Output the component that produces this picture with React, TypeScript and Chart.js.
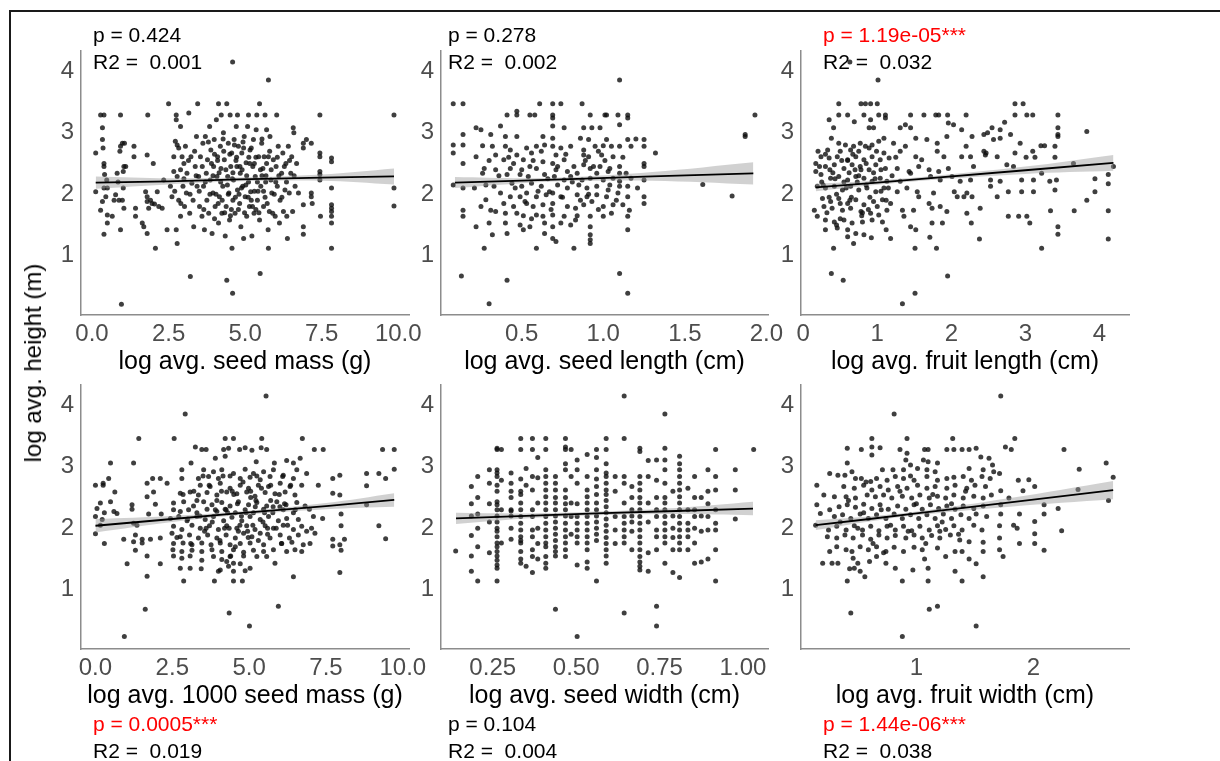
import React, { useEffect, useRef } from "react";
import { Chart, registerables } from "chart.js";
Chart.register(...registerables);

type P = [number, number];

// ---------- scatter data (x, log avg. height) ----------
const seedMass: P[] = [
[0.12,2.67],[0.12,2.04],[0.28,3.29],[0.39,3.29],[0.34,3.08],[0.34,2.89],[0.36,2.75],[0.39,2.5],[0.39,2.45],[0.41,2.32],[0.48,2.23],[0.39,2.1],[0.5,2.1],[0.34,1.88],[0.45,1.96],[0.28,1.74],[0.5,1.66],[0.39,1.35],[0.5,1.53],
[0.66,1.64],[0.72,1.9],[0.77,1.99],[0.82,2.34],[0.85,2.2],[0.88,1.9],[0.93,3.29],[0.93,2.78],[0.91,2.7],[0.99,2.83],[1.02,2.37],[1.04,2.45],[1.02,2.1],[0.93,1.42],[1.04,1.77],[0.96,0.21],[1.06,2.83],[1.1,2.45],[0.99,1.9],[1.37,2.78],[1.37,2.61],[1.42,1.77],[1.42,1.64],[1.64,1.53],
[1.82,3.29],[1.8,2.64],[1.75,2.04],[1.8,1.96],[1.8,1.88],[1.85,1.77],[1.8,1.36],[1.69,1.47],[1.91,1.9],[2.0,2.5],[1.96,1.85],[2.04,1.84],[2.07,1.12],[2.13,2.04],[2.18,1.8],[2.29,1.77],[2.34,2.23],[2.45,1.42],[2.5,3.47],
[2.56,2.13],[2.61,1.96],[2.67,2.61],[2.67,2.37],[2.72,2.86],[2.75,3.29],[2.75,3.21],[2.75,1.42],[2.78,1.2],[2.78,2.29],[2.78,2.8],[2.83,2.75],[2.83,1.9],[2.89,3.1],[2.89,2.4],[2.89,1.64],[2.94,2.61],[2.97,2.13],[3.0,2.5],[3.02,1.8],[3.05,2.78],[3.08,2.02],[3.1,2.34],[3.16,3.32],[3.19,1.69],[3.21,0.66],[3.23,2.61],[3.26,2.18],[3.3,1.9],[3.32,1.47],[3.37,2.45],[3.41,2.94],[3.43,2.13],[3.45,3.47],[3.48,2.29],[3.51,1.8],
[3.54,2.61],[3.59,1.64],[3.62,2.83],[3.64,2.13],[3.67,1.42],[3.7,2.94],[3.73,2.34],[3.75,1.9],[3.77,2.56],[3.81,1.69],[3.84,3.1],[3.86,2.23],[3.88,2.72],[3.92,1.36],[3.95,2.02],[3.97,2.45],[3.99,2.89],[4.02,1.8],[4.06,3.21],[4.08,2.29],[4.1,2.61],[4.13,3.47],[4.13,1.53],[4.16,1.96],[4.19,2.78],[4.21,2.42],[4.22,3.29],[4.24,1.69],[4.27,2.13],[4.29,3.0],[4.32,2.56],[4.35,1.32],[4.38,1.8],[4.4,3.47],[4.4,0.6],[4.43,2.29],[4.45,2.83],[4.47,2.02],[4.49,1.58],[4.51,3.29],[4.53,2.45],[4.56,2.67],[4.57,1.12],[4.59,4.15],[4.59,0.39],[4.6,1.9],
[4.62,2.23],[4.64,2.89],[4.67,1.69],[4.71,3.1],[4.73,2.45],[4.75,3.29],[4.75,2.07],[4.78,2.78],[4.82,1.85],[4.84,2.34],[4.86,1.47],[4.89,2.67],[4.92,2.13],[4.95,1.28],[4.97,2.94],[5.0,1.96],[5.03,2.51],[5.05,1.64],[5.08,3.1],[5.11,3.29],[5.11,2.2],[5.14,1.8],[5.16,2.72],[5.18,2.04],[5.22,1.32],[5.25,2.45],[5.27,2.89],[5.29,1.69],[5.33,2.29],[5.36,3.05],[5.38,3.29],[5.4,1.9],[5.44,2.61],[5.47,3.47],[5.47,1.58],[5.49,0.71],[5.51,2.13],[5.54,2.83],[5.58,2.42],[5.6,1.8],[5.62,2.61],[5.65,3.29],[5.67,2.2],[5.7,3.05],
[5.75,1.42],[5.76,3.86],[5.76,1.12],[5.76,2.61],[5.79,1.72],[5.81,2.94],[5.84,2.23],[5.87,2.02],[5.9,1.69],[5.92,2.56],[5.98,1.64],[6.01,2.45],[6.03,3.29],[6.05,2.13],[6.08,2.78],[6.12,1.53],[6.14,1.9],[6.19,2.34],[6.23,2.67],[6.25,1.72],[6.3,2.07],[6.33,2.5],[6.36,1.64],[6.38,1.28],[6.41,2.78],[6.44,2.02],[6.49,2.34],[6.52,2.61],[6.55,1.72],[6.57,3.08],[6.59,3.0],[6.63,2.13],[6.68,2.5],[6.74,2.02],
[6.9,2.83],[6.9,2.75],[6.9,1.83],[6.9,1.47],[6.9,1.35],[7.0,2.89],[7.16,2.83],[7.16,2.02],[7.16,1.96],[7.19,1.85],[7.44,3.29],[7.44,2.67],[7.44,2.61],[7.44,2.37],[7.44,2.32],[7.44,2.23],[7.46,1.64],[7.82,2.59],[7.82,2.53],[7.82,2.1],[7.82,1.83],[7.82,1.77],[7.82,1.72],[7.82,1.64],[7.82,1.53],[7.82,1.12],
[9.86,3.29],[9.86,2.1],[9.86,1.81],
[3.9,2.5],[4.05,2.0],[4.15,2.35],[4.3,2.7],[4.42,2.15],[4.55,1.75],[4.7,2.55],[4.8,2.0],[4.9,2.4],[5.02,2.15],[5.12,2.6],[5.2,1.9],[5.3,2.5],[5.42,2.05],[5.55,2.3],[5.65,1.95],[3.7,2.2],[4.0,2.65],[4.25,1.9],[4.6,2.35],[4.95,2.75],[5.35,1.75],[5.7,2.5],[6.0,2.2],
[3.35,2.7],[3.5,2.05],[3.6,2.45],[3.65,1.75],[3.8,2.85],[3.85,2.0],[3.95,2.3],[4.0,1.6],[4.1,2.55],[4.12,1.85],[4.2,2.2],[4.28,2.9],[4.33,1.7],[4.37,2.4],[4.45,2.0],[4.5,2.65],[4.52,1.65],[4.58,2.25],[4.65,2.8],[4.68,1.95],[4.72,2.6],[4.78,1.75],[4.83,2.45],[4.88,2.1],[4.93,2.85],[4.98,1.7],[5.05,2.3],[5.1,1.95],[5.15,2.5],[5.2,2.75],[5.24,1.8],[5.3,2.05],[5.35,2.6],[5.4,2.2],[5.45,1.7],[5.5,2.4],[5.55,2.9],[5.6,2.05],[5.68,2.3],[5.72,1.85],[5.8,2.7],[5.85,2.4],[5.95,2.0],[6.05,2.6],[6.1,2.3],[6.2,1.95],[6.28,2.45],[6.35,2.2],[6.45,2.55],[6.6,2.3],[3.2,2.0],[3.4,2.3],[3.0,2.25],[2.7,2.05],[2.9,1.85],[3.15,2.55],
];

const seedLength: P[] = [
[1.1,3.86],[0.13,0.67],[0.41,0.6],[0.3,0.22],[1.1,0.71],[1.15,0.39],[1.93,3.29],[1.87,2.97],[1.87,2.94],[1.61,2.16],[1.79,1.97],
[0.08,3.47],[0.14,3.47],[0.61,3.47],[0.69,3.47],[0.74,3.47],[0.87,3.47],
[0.41,3.29],[0.47,3.29],[0.55,3.29],[0.69,3.29],[0.92,3.29],[1.01,3.29],[1.09,3.29],[1.15,3.29],
[0.47,3.35],[0.58,3.29],[0.69,3.24],[1.02,3.29],[1.15,3.24],[1.1,3.13],[0.69,3.11],[0.37,3.11],[0.76,3.08],[0.88,3.08],[0.93,3.08],[0.98,3.08],[0.22,3.08],[0.25,3.05],[0.14,2.97],[0.31,2.97],[0.4,2.94],[0.47,2.94],[0.63,2.94],[0.69,2.91],[0.86,2.91],[0.91,2.89],[1.02,2.89],[1.15,2.89],[1.2,2.9],[1.25,2.89],
[0.08,2.8],[0.14,2.8],[0.26,2.79],[0.32,2.78],[0.4,2.78],[0.43,2.72],[0.53,2.75],[0.59,2.78],[0.64,2.8],[0.69,2.78],[0.74,2.75],[0.8,2.78],[0.88,2.72],[0.95,2.78],[1.0,2.79],[1.05,2.78],[1.1,2.78],[1.17,2.78],[1.25,2.78],[0.08,2.67],[0.22,2.61],[0.34,2.64],[0.47,2.64],[0.56,2.67],[0.71,2.64],[0.88,2.64],[0.91,2.61],[0.99,2.64],[1.06,2.61],[1.32,2.67],
[0.14,2.5],[0.39,2.56],[0.45,2.5],[0.51,2.56],[0.55,2.45],[0.63,2.53],[0.69,2.5],[0.76,2.56],[0.82,2.45],[0.88,2.48],[0.92,2.42],[0.98,2.45],[1.04,2.42],[1.1,2.45],[1.25,2.5],[1.25,2.45],[0.27,2.42],[0.34,2.4],[0.43,2.42],[0.59,2.42],[0.71,2.4],[0.78,2.37],[0.84,2.34],[0.96,2.34],[1.03,2.37],[1.1,2.34],[1.14,2.34],
[0.26,2.34],[0.41,2.32],[0.49,2.32],[0.54,2.29],[0.64,2.32],[0.7,2.29],[0.76,2.23],[0.8,2.29],[0.87,2.23],[0.92,2.26],[1.0,2.23],[1.06,2.26],[1.1,2.21],[1.17,2.26],[1.25,2.23],[0.08,2.15],[0.14,2.1],[0.21,2.1],[0.28,2.15],[0.33,2.13],[0.44,2.18],[0.5,2.13],[0.56,2.18],[0.62,2.13],[0.67,2.04],[0.72,2.15],[0.78,2.1],[0.85,2.15],[0.9,2.1],[0.96,2.13],[1.03,2.07],[1.1,2.13],[1.15,2.13],[1.21,2.1],
[0.37,2.02],[0.43,1.96],[0.49,1.96],[0.53,2.02],[0.59,1.96],[0.65,1.99],[0.69,2.02],[0.74,1.96],[0.84,1.99],[0.9,1.96],[0.96,1.99],[1.02,1.96],[1.09,2.02],[1.15,1.96],[1.25,1.96],[1.25,1.85],[0.28,1.91],[0.31,1.74],[0.39,1.85],[0.45,1.8],[0.52,1.88],[0.57,1.8],[0.63,1.83],[0.69,1.85],[0.78,1.8],[0.83,1.77],[0.88,1.83],[0.93,1.88],[1.0,1.8],[1.06,1.83],[1.12,1.83],[1.16,1.74],[0.14,1.74],[0.14,1.64],
[0.34,1.72],[0.4,1.69],[0.47,1.69],[0.51,1.65],[0.59,1.66],[0.63,1.64],[0.69,1.66],[0.76,1.64],[0.84,1.65],[0.92,1.64],[1.0,1.64],[1.05,1.69],[1.15,1.64],[0.22,1.47],[0.3,1.53],[0.4,1.53],[0.49,1.5],[0.55,1.47],[0.64,1.53],[0.69,1.47],[0.74,1.53],[0.83,1.58],[0.92,1.47],[1.15,1.42],[0.32,1.34],[0.41,1.36],[0.51,1.42],[0.64,1.36],[0.69,1.28],[0.71,1.23],[0.92,1.34],[0.92,1.26],[0.92,1.2],[0.27,1.12],[0.59,1.12],[0.82,1.12],
[0.42,2.6],[0.46,2.1],[0.5,2.4],[0.53,1.85],[0.57,2.55],[0.6,2.05],[0.62,2.7],[0.66,2.25],[0.68,1.75],[0.72,2.45],[0.75,1.95],[0.77,2.65],[0.81,2.2],[0.86,1.9],[0.89,2.55],[0.91,2.0],[0.94,2.45],[0.97,1.75],[1.01,2.55],[1.04,2.15],[1.08,1.9],[1.12,2.6],[0.36,2.3],[0.3,2.55],[0.25,1.8],[0.56,1.6],[0.8,1.5],[0.97,2.7],
];

const fruitLength: P[] = [
[1.01,3.86],[0.63,4.15],[0.38,0.71],[0.54,0.6],[1.34,0.22],[1.51,0.39],[1.95,0.67],[0.41,1.12],[1.51,1.12],[1.8,1.12],[2.38,1.27],[3.22,1.12],[4.12,1.27],[0.92,1.29],
[0.48,3.47],[0.78,3.47],[0.84,3.47],[0.91,3.47],[1.0,3.47],[2.86,3.47],[2.97,3.47],
[0.48,3.29],[0.6,3.29],[0.82,3.29],[1.02,3.29],[1.11,3.29],[1.45,3.29],[1.63,3.29],[1.79,3.29],[1.83,3.29],[1.95,3.29],[2.2,3.29],[2.86,3.29],[3.02,3.29],[3.1,3.29],[3.44,3.29],
[0.35,3.21],[0.69,3.18],[0.91,3.21],[1.11,3.24],[1.38,3.13],[1.31,3.08],[1.45,3.08],[1.96,3.16],[2.03,3.13],[0.41,3.08],[0.89,3.08],[0.95,3.08],[2.14,3.05],[2.55,3.08],[2.66,3.05],[2.72,3.17],[3.83,3.02],[3.44,3.08],[3.44,2.97],[2.49,3.0],[2.8,2.97],[3.44,2.94],
[0.38,2.91],[0.48,2.83],[0.57,2.8],[0.68,2.78],[0.77,2.83],[0.84,2.78],[0.93,2.8],[1.02,2.86],[1.09,2.91],[1.22,2.83],[1.38,2.78],[1.52,2.91],[1.67,2.89],[1.81,2.83],[1.94,2.94],[2.28,2.94],[2.44,2.97],[2.57,2.89],[2.66,2.91],[2.93,2.83],[3.21,2.79],[3.26,2.79],[3.4,2.78],[0.2,2.7],[0.33,2.72],[0.5,2.7],[0.64,2.72],[0.75,2.7],[0.89,2.75],[0.99,2.7],[1.09,2.67],[1.31,2.7],[1.81,2.7],[2.2,2.78],[2.44,2.7],[2.47,2.67],[2.86,2.67],[3.1,2.7],
[0.24,2.61],[0.35,2.59],[0.46,2.61],[0.6,2.56],[0.71,2.61],[0.82,2.56],[0.93,2.61],[1.04,2.56],[1.16,2.59],[1.52,2.61],[1.6,2.56],[1.9,2.61],[2.14,2.61],[2.26,2.61],[2.46,2.64],[2.62,2.61],[3.01,2.6],[3.13,2.6],[3.4,2.6],[0.17,2.5],[0.3,2.45],[0.42,2.48],[0.55,2.42],[0.66,2.48],[0.77,2.45],[0.89,2.4],[0.98,2.48],[1.11,2.42],[1.27,2.42],[1.43,2.37],[1.56,2.45],[1.7,2.4],[1.83,2.37],[1.96,2.42],[2.3,2.45],[2.75,2.48],[2.84,2.45],[3.65,2.5],[4.19,2.45],[0.17,2.37],
[0.24,2.32],[0.37,2.26],[0.48,2.29],[0.6,2.23],[0.71,2.29],[0.82,2.26],[0.93,2.21],[1.04,2.26],[1.13,2.21],[1.31,2.21],[1.45,2.34],[1.72,2.29],[1.85,2.23],[2.01,2.29],[2.12,2.21],[2.26,2.23],[2.53,2.23],[2.66,2.21],[2.95,2.23],[3.11,2.23],[3.22,2.34],[3.33,2.21],[3.42,2.23],[3.94,2.25],[4.12,2.32],[0.19,2.13],[0.3,2.1],[0.42,2.13],[0.53,2.07],[0.64,2.13],[0.75,2.07],[0.86,2.1],[0.98,2.04],[1.09,2.1],[1.27,2.04],[1.4,2.1],[1.54,2.04],[1.76,2.02],[2.04,2.04],[2.21,2.02],[2.53,2.13],[2.77,2.04],[2.95,2.04],[3.11,2.04],[3.4,2.07],[3.94,2.04],[4.12,2.17],
[0.15,1.74],[0.26,1.93],[0.37,1.88],[0.48,1.93],[0.6,1.85],[0.71,1.91],[0.82,1.83],[0.95,1.88],[1.07,1.91],[1.18,1.85],[1.34,1.74],[1.56,1.96],[1.7,1.85],[1.85,1.8],[2.08,1.96],[2.17,1.96],[2.28,1.96],[2.62,1.96],[3.83,1.9],[0.28,1.8],[0.39,1.77],[0.53,1.74],[0.64,1.77],[0.78,1.72],[0.91,1.69],[1.02,1.66],[1.13,1.74],[1.49,1.74],[1.74,1.77],[1.94,1.72],[2.21,1.69],[2.39,1.77],[3.34,1.73],[3.66,1.73],[4.12,1.73],[0.19,1.64],[2.77,1.64],[2.91,1.64],[3.02,1.64],
[0.3,1.58],[0.42,1.55],[0.55,1.58],[0.66,1.53],[0.8,1.55],[0.93,1.58],[1.07,1.55],[1.36,1.64],[1.74,1.53],[1.88,1.53],[2.27,1.53],[3.06,1.53],[0.3,1.42],[0.46,1.45],[0.6,1.42],[0.71,1.36],[0.82,1.34],[1.12,1.42],[1.45,1.47],[1.52,1.42],[1.71,1.3],[3.44,1.47],[3.44,1.35],[1.18,1.28],[0.68,1.2],[0.6,1.31],
[0.45,2.0],[0.55,2.2],[0.65,1.95],[0.7,2.4],[0.8,1.7],[0.85,2.15],[0.95,2.35],[1.0,1.8],[0.4,2.35],[0.5,1.85],[0.6,2.55],[0.75,2.3],[0.9,1.95],[1.05,2.05],[0.35,1.95],[0.25,2.2],
[0.22,2.45],[0.27,2.15],[0.32,1.7],[0.36,2.4],[0.43,2.25],[0.5,1.6],[0.52,2.55],[0.58,2.1],[0.63,1.9],[0.67,2.65],[0.73,2.2],[0.79,1.65],[0.85,2.5],[0.88,1.75],[0.97,2.25],[1.05,2.4],[1.12,1.9],[1.2,2.3],[1.25,2.6],[0.45,1.5],[0.62,2.35],[0.78,2.4],[1.15,2.1],[0.3,2.65],
];

const thousandSeedMass: P[] = [
[5.55,4.15],[2.92,3.86],[0.94,0.24],[1.62,0.68],[4.35,0.62],[5.01,0.41],[5.95,0.73],[6.44,1.21],[7.95,1.28],[9.44,1.83],[9.22,2.04],
[1.41,3.46],[2.56,3.46],[4.22,3.46],[4.49,3.46],[5.41,3.46],[6.73,3.46],
[3.25,3.32],[3.46,3.28],[3.6,3.28],[4.17,3.28],[4.33,3.3],[4.69,3.28],[4.87,3.31],[5.09,3.27],[5.39,3.31],[5.57,3.28],[7.12,3.28],[7.41,3.28],[9.34,3.28],[9.72,3.28],[4.22,3.17],[0.49,3.06],[1.24,3.06],[3.11,3.06],[3.9,3.14],[5.23,3.08],[5.82,3.06],[6.22,3.1],[6.44,3.06],[6.66,3.14],
[2.81,2.95],[2.81,2.81],[3.52,2.95],[3.84,2.92],[4.11,2.95],[4.49,2.89],[4.87,2.96],[5.14,2.89],[5.47,2.92],[5.79,2.95],[6.11,2.86],[6.55,2.95],[6.87,2.89],[8.82,2.89],[9.22,2.89],[9.72,2.96],[7.95,2.86],[1.86,2.81],[2.11,2.81],[0.43,2.81],[3.35,2.81],[3.68,2.84],[4.0,2.81],[4.38,2.85],[4.71,2.81],[5.03,2.83],[5.36,2.79],[5.68,2.84],[6.09,2.84],[6.44,2.81],[7.72,2.81],[9.44,2.81],
[0.0,2.7],[0.25,2.7],[0.25,2.73],[1.68,2.73],[2.33,2.73],[3.41,2.7],[3.73,2.68],[4.06,2.73],[4.38,2.65],[4.71,2.7],[4.98,2.65],[5.3,2.7],[5.63,2.68],[6.01,2.73],[6.33,2.68],[6.71,2.7],[7.25,2.7],[8.82,2.69],[0.63,2.59],[1.89,2.59],[2.76,2.57],[3.08,2.59],[3.35,2.54],[3.63,2.58],[3.95,2.54],[4.27,2.59],[4.6,2.56],[4.92,2.59],[5.19,2.52],[5.52,2.58],[5.84,2.56],[6.17,2.59],[6.49,2.54],[7.72,2.57],[7.95,2.54],[1.68,2.51],
[0.49,2.43],[0.16,2.41],[1.19,2.38],[1.95,2.39],[2.54,2.41],[2.87,2.43],[3.19,2.36],[3.52,2.43],[3.79,2.38],[4.11,2.42],[4.38,2.36],[4.65,2.43],[4.98,2.38],[5.25,2.42],[5.57,2.36],[5.9,2.43],[6.2,2.38],[6.55,2.42],[6.82,2.36],[8.82,2.38],[0.05,2.32],[0.29,2.25],[0.6,2.27],[0.7,2.24],[1.19,2.31],[2.54,2.3],[2.76,2.27],[3.03,2.3],[3.3,2.25],[3.63,2.31],[3.95,2.27],[4.22,2.31],[4.55,2.25],[4.87,2.3],[5.14,2.25],[5.47,2.31],[5.77,2.25],[6.11,2.3],[6.44,2.25],[6.96,2.31],[7.99,2.23],
[0.0,2.19],[0.22,2.14],[1.24,2.08],[1.35,2.05],[1.73,2.23],[2.14,2.23],[2.44,2.16],[2.71,2.19],[2.98,2.12],[3.3,2.19],[3.57,2.14],[3.84,2.19],[4.17,2.12],[4.44,2.18],[4.76,2.12],[5.03,2.19],[5.36,2.14],[5.63,2.19],[5.95,2.12],[6.22,2.16],[6.6,2.14],[7.09,2.19],[7.39,2.16],[7.99,2.04],[0.16,2.05],[2.54,2.03],[2.81,1.98],[3.14,2.05],[3.41,2.0],[3.71,2.04],[4.0,1.98],[4.27,2.04],[4.6,2.0],[4.92,2.04],[5.19,1.98],[5.52,2.04],[5.79,2.0],[6.11,2.05],[6.44,1.98],[6.71,2.03],[7.03,2.0],
[0.0,1.91],[1.3,1.89],[2.49,1.92],[2.76,1.86],[3.06,1.89],[3.35,1.84],[3.65,1.89],[3.95,1.84],[4.25,1.89],[4.55,1.84],[4.82,1.92],[5.09,1.86],[5.36,1.92],[5.68,1.84],[6.01,1.89],[6.31,1.84],[6.6,1.89],[6.87,1.95],[7.14,1.92],[0.92,1.82],[1.24,1.78],[1.52,1.82],[1.79,1.82],[2.11,1.84],[7.72,1.82],[8.1,1.82],[0.29,1.75],[1.52,1.76],[2.54,1.75],[2.85,1.76],[3.14,1.73],[3.46,1.76],[3.76,1.73],[4.06,1.76],[4.38,1.73],[4.71,1.75],[5.03,1.76],[5.47,1.73],[6.06,1.75],[6.39,1.77],[6.76,1.73],[6.98,1.75],[7.72,1.71],[7.95,1.73],
[1.3,1.64],[1.68,1.55],[2.52,1.65],[2.81,1.62],[3.14,1.64],[3.46,1.62],[3.79,1.65],[4.11,1.62],[4.49,1.65],[4.82,1.61],[5.14,1.64],[5.47,1.62],[5.79,1.65],[6.22,1.62],[6.49,1.65],[6.71,1.62],[7.99,1.64],[2.11,1.42],[1.03,1.42],[2.54,1.55],[2.81,1.51],[3.08,1.55],[3.46,1.48],[3.84,1.54],[4.11,1.49],[4.38,1.54],[4.82,1.55],[5.25,1.54],[5.57,1.54],[5.84,1.43],[2.76,1.35],[3.08,1.35],[3.44,1.34],[4.06,1.32],[4.27,1.46],[4.49,1.43],[4.71,1.42],[5.03,1.35],[1.68,1.22],
[4.0,1.3],[4.49,1.3],[4.87,1.31],[4.33,1.38],[2.87,1.14],[3.87,1.14],[4.49,1.14],[4.78,1.14],
[3.9,2.3],[4.2,2.0],[4.5,2.55],[4.75,2.2],[4.95,1.95],[5.2,2.35],[5.45,2.1],[5.7,2.45],[3.6,2.0],[4.1,2.6],[4.65,1.95],[5.05,2.5],[5.6,2.0],[6.0,2.35],[3.3,2.45],[4.3,2.25],
[3.2,2.6],[3.4,2.2],[3.55,1.95],[3.7,2.7],[3.8,2.1],[3.95,2.45],[4.05,1.8],[4.15,2.85],[4.25,2.3],[4.35,2.0],[4.45,2.6],[4.55,1.7],[4.62,2.4],[4.7,2.05],[4.8,2.75],[4.9,2.25],[4.97,1.85],[5.05,2.6],[5.12,2.05],[5.22,2.45],[5.3,1.8],[5.4,2.65],[5.5,2.25],[5.6,1.9],[5.7,2.7],[5.78,2.35],[5.88,2.0],[5.98,2.55],[6.05,1.75],[6.15,2.4],[6.25,2.05],[6.35,2.7],[6.5,2.3],[3.0,2.15],[2.85,2.55],[2.65,1.85],[3.1,1.75],[3.5,2.85],[4.4,1.55],[5.25,2.85],
];

// seed width: columns of points sharing one width value [width, heights]
const seedWidthColumns: [number, number[]][] = [
[0.139,[1.63]],
[0.186,[2.68,2.4,2.2,1.88,1.55,1.3]],
[0.205,[2.84,2.5,2.23,2.0,1.7,1.14]],
[0.24,[2.95,2.73,2.4,2.1,1.6]],
[0.263,[3.3,3.28,2.95,2.9,2.84,2.7,2.6,2.43,2.38,2.3,2.2,2.1,2.0,1.95,1.86,1.76,1.7,1.62,1.55,1.48,1.4,1.35,1.14]],
[0.276,[3.28,2.78,2.3,1.76]],
[0.305,[2.9,2.73,2.6,2.5,2.3,2.28,2.2,2.0,1.82]],
[0.334,[3.46,3.28,2.8,2.6,2.55,2.41,2.3,2.19,2.08,1.97,1.86,1.8,1.76,1.62,1.5,1.43]],
[0.35,[2.97,2.7,1.38]],
[0.369,[3.46,3.28,2.84,2.62,2.3,2.19,1.97,1.86,1.65,1.54,1.28]],
[0.385,[3.15,2.82,2.41,2.0,1.75,1.5]],
[0.409,[3.46,3.28,2.95,2.84,2.73,2.62,2.51,2.41,2.3,2.19,2.08,1.97,1.86,1.76,1.7,1.54,1.43,1.35]],
[0.438,[2.84,2.73,2.62,2.5,2.41,2.3,2.2,2.1,2.0,1.9,1.8,1.7,1.62,1.55,0.68]],
[0.468,[3.46,3.32,3.28,3.05,2.95,2.62,2.5,2.4,2.3,2.2,2.08,1.97,1.86,1.76,1.65,1.54]],
[0.485,[3.28,2.84,2.41,2.19,1.9]],
[0.503,[3.11,2.95,2.73,2.4,2.19,2.08,1.97,1.86,1.76,1.4,0.24]],
[0.533,[3.2,2.84,2.62,2.51,2.41,2.3,2.19,2.08,1.97,1.86,1.76,1.65,1.45,1.35]],
[0.561,[3.28,3.15,2.95,2.8,2.68,2.55,2.41,2.3,2.2,2.1,2.0,1.9,1.8,1.14]],
[0.59,[3.46,3.28,3.05,2.9,2.84,2.73,2.62,2.55,2.45,2.35,2.25,2.15,2.05,1.95,1.85,1.75,1.65,1.55,1.43]],
[0.617,[2.84,2.6,2.19,1.97,1.75]],
[0.644,[4.15,3.46,2.84,2.73,2.41,2.19,2.08,1.97,1.86,1.76,0.62]],
[0.667,[2.68,2.5,2.3,2.2,2.1,1.95,1.65]],
[0.691,[3.3,3.25,2.84,2.73,2.62,2.5,2.41,2.3,2.19,2.08,1.97,1.86,1.76,1.65,1.54,1.45,1.38,1.32]],
[0.716,[3.1,2.84,2.41,2.1,1.6,1.3]],
[0.741,[3.11,2.78,2.5,2.3,2.19,1.97,1.86,1.65,0.73,0.41]],
[0.766,[3.86,3.3,3.11,2.95,2.73,2.5,2.41,2.3,2.19,2.08,1.97,1.86,1.76,1.43]],
[0.79,[2.6,2.2,2.0,1.85,1.65,1.28]],
[0.81,[3.17,3.05,2.95,2.84,2.73,2.62,2.51,2.41,2.3,2.19,2.08,1.97,1.86,1.76,1.65,1.2]],
[0.835,[2.65,2.3,2.08,1.97,1.86,1.65]],
[0.855,[2.84,2.5,2.3,2.19,2.0,1.76,1.43]],
[0.875,[2.5,2.2,1.95,1.45]],
[0.895,[2.95,2.6,2.4,2.19,1.97,1.5]],
[0.918,[3.28,2.84,2.62,2.3,2.08,1.97,1.65,1.14]],
[0.977,[2.95,2.62,2.15]],
[1.032,[3.28]],
];

const fruitWidth: P[] = [
[1.72,4.15],[0.81,3.86],[0.44,0.62],[1.11,0.68],[1.18,0.73],[0.88,0.24],[1.51,0.41],[0.41,1.14],[0.56,1.21],[0.88,1.14],[1.1,1.14],[1.39,1.14],[1.57,1.21],[1.33,1.3],
[0.62,3.46],[0.92,3.46],[1.31,3.46],[1.84,3.46],[0.41,3.3],[0.53,3.28],[0.62,3.32],[0.69,3.31],[0.86,3.28],[1.07,3.28],[1.1,3.28],[1.26,3.28],[1.32,3.28],[1.39,3.28],[1.45,3.28],[1.51,3.3],[1.76,3.32],[1.81,3.28],[2.26,3.28],[2.62,3.06],[2.39,2.96],[2.68,2.83],[0.62,3.19],[0.92,3.22],[0.41,3.06],[0.91,3.11],[0.95,3.03],[1.06,3.11],[1.1,3.08],[1.18,3.06],[1.55,3.16],[1.62,3.14],[1.65,3.03],[1.71,2.89],[1.66,2.92],
[0.71,2.95],[0.8,2.95],[0.89,2.95],[1.01,2.97],[1.09,2.95],[1.16,2.92],[1.45,2.97],[1.57,2.95],[0.26,2.89],[0.33,2.86],[0.39,2.86],[0.45,2.92],[0.15,2.7],[0.48,2.81],[0.53,2.81],[0.61,2.76],[0.66,2.81],[0.75,2.78],[0.82,2.84],[0.89,2.81],[0.98,2.78],[1.09,2.84],[1.18,2.78],[1.26,2.81],[1.32,2.83],[1.4,2.84],[1.47,2.78],[1.56,2.84],[1.63,2.81],[1.87,2.78],[1.96,2.79],
[0.38,2.68],[0.47,2.65],[0.55,2.7],[0.62,2.62],[0.69,2.68],[0.76,2.62],[0.84,2.68],[0.92,2.65],[1.01,2.7],[1.09,2.65],[1.16,2.68],[1.26,2.65],[1.33,2.7],[1.43,2.65],[1.5,2.7],[1.59,2.68],[1.72,2.61],[1.91,2.61],[2.01,2.68],[2.38,2.63],[0.21,2.54],[0.3,2.51],[0.4,2.51],[0.48,2.49],[0.58,2.54],[0.65,2.51],[0.72,2.54],[0.79,2.49],[0.88,2.52],[0.96,2.49],[1.03,2.54],[1.11,2.49],[1.18,2.52],[1.25,2.49],[1.32,2.54],[1.4,2.49],[1.49,2.52],[1.57,2.49],[1.64,2.54],[2.64,2.45],
[0.15,2.38],[0.26,2.3],[0.34,2.35],[0.41,2.38],[0.48,2.34],[0.55,2.39],[0.62,2.32],[0.69,2.38],[0.76,2.31],[0.84,2.36],[0.91,2.31],[0.98,2.38],[1.05,2.31],[1.12,2.38],[1.19,2.32],[1.26,2.36],[1.33,2.31],[1.4,2.36],[1.49,2.32],[1.57,2.36],[1.72,2.38],[1.79,2.49],[2.09,2.38],[2.21,2.32],[0.18,2.24],[0.3,2.19],[0.37,2.22],[0.44,2.16],[0.52,2.23],[0.59,2.16],[0.66,2.22],[0.74,2.16],[0.81,2.23],[0.88,2.16],[0.95,2.22],[1.02,2.16],[1.09,2.22],[1.16,2.16],[1.23,2.23],[1.3,2.16],[1.38,2.22],[1.45,2.16],[1.51,2.23],[1.6,2.19],[1.72,2.23],[1.88,2.23],[2.09,2.23],
[0.14,2.05],[0.25,1.97],[0.32,2.03],[0.4,1.97],[0.47,2.04],[0.54,1.97],[0.61,2.03],[0.68,1.96],[0.75,2.03],[0.82,1.97],[0.89,2.03],[0.96,1.96],[1.03,2.03],[1.11,1.97],[1.18,2.04],[1.25,1.98],[1.32,2.04],[1.39,1.97],[1.49,2.05],[1.56,1.97],[1.71,2.04],[1.83,2.05],[1.86,2.0],[2.01,2.11],[2.24,1.96],[0.24,1.86],[0.32,1.84],[0.39,1.89],[0.46,1.84],[0.54,1.89],[0.61,1.82],[0.68,1.89],[0.75,1.84],[0.82,1.88],[0.91,1.84],[0.98,1.89],[1.05,1.84],[1.13,1.88],[1.2,1.84],[1.29,1.89],[1.37,1.81],[1.45,1.78],[1.57,1.77],[1.71,1.84],[1.88,1.75],[2.01,1.91],[2.01,1.75],
[0.26,1.62],[0.32,1.7],[0.4,1.65],[0.45,1.62],[0.52,1.7],[0.59,1.65],[0.66,1.7],[0.74,1.62],[0.81,1.69],[0.89,1.62],[0.98,1.69],[1.05,1.65],[1.18,1.68],[1.25,1.54],[1.33,1.62],[1.39,1.62],[1.57,1.62],[1.71,1.65],[1.74,1.54],[2.09,1.64],[0.2,1.43],[0.28,1.43],[0.33,1.43],[0.46,1.51],[0.5,1.43],[0.6,1.46],[0.66,1.54],[0.74,1.43],[0.82,1.35],[0.97,1.32],[1.07,1.5],[1.1,1.35],[1.45,1.5],[1.51,1.42],[0.43,1.34],[0.47,1.35],[0.52,1.3],
[0.35,2.1],[0.42,2.45],[0.5,2.0],[0.57,2.75],[0.63,1.75],[0.7,2.3],[0.78,2.05],[0.86,2.6],[0.93,1.95],[1.0,2.4],[1.08,1.75],[1.14,2.55],[1.22,2.1],[1.3,2.4],[1.36,1.9],[1.42,2.6],[0.55,2.25],[0.72,1.6],[0.95,2.85],[1.2,1.95],
];

// ---------- fitted lines and 95% bands (read at a few x positions) ----------
const massFitX = [0.12, 2.5, 4.8, 7.5, 9.86];
const massFitY = [2.19, 2.21, 2.24, 2.27, 2.29];
const massFitSE = [0.1, 0.05, 0.03, 0.05, 0.13];

const lengthFitX = [0.09, 0.5, 0.75, 1.3, 1.92];
const lengthFitY = [2.19, 2.22, 2.24, 2.29, 2.34];
const lengthFitSE = [0.09, 0.04, 0.03, 0.07, 0.18];

const fruitLenFitX = [0.17, 1.0, 1.6, 3.0, 4.19];
const fruitLenFitY = [2.11, 2.19, 2.25, 2.39, 2.51];
const fruitLenFitSE = [0.06, 0.035, 0.03, 0.06, 0.13];

const kMassFitX = [0.0, 2.5, 4.6, 7.5, 9.72];
const kMassFitY = [2.04, 2.15, 2.24, 2.36, 2.46];
const kMassFitSE = [0.11, 0.05, 0.03, 0.05, 0.11];

const widthFitX = [0.14, 0.35, 0.56, 0.8, 1.03];
const widthFitY = [2.16, 2.2, 2.24, 2.28, 2.32];
const widthFitSE = [0.09, 0.04, 0.03, 0.05, 0.11];

const fruitWidFitX = [0.14, 0.6, 1.0, 1.8, 2.68];
const fruitWidFitY = [2.05, 2.15, 2.24, 2.42, 2.62];
const fruitWidFitSE = [0.08, 0.04, 0.03, 0.07, 0.15];

// ---------- ticks ----------
const heightTicks = [1, 2, 3, 4];
const massTicks = [0, 2.5, 5, 7.5, 10];
const massTickLabels = ["0.0", "2.5", "5.0", "7.5", "10.0"];
const lengthTicks = [0.5, 1.0, 1.5, 2.0];
const lengthTickLabels = ["0.5", "1.0", "1.5", "2.0"];
const fruitLenTicks = [0, 1, 2, 3, 4];
const fruitLenTickLabels = ["0", "1", "2", "3", "4"];
const widthTicks = [0.25, 0.5, 0.75, 1.0];
const widthTickLabels = ["0.25", "0.50", "0.75", "1.00"];
const fruitWidTicks = [1, 2];
const fruitWidTickLabels = ["1", "2"];

const FONT = "'Liberation Sans', Arial, sans-serif";

type Cfg = {
  left: number; top: number; w: number; h: number; statsX: number;
  xMin: number; xMax: number;
  ticks: number[]; labels: string[];
  pts: P[];
  fx: number[]; fy: number[]; fse: number[];
  title: string; p: string; pRed: boolean; r2: string; statsBelow: boolean;
};

const YW = 70, T = 12, R = 40, XH = 50;
const Y_MIN = 0.035, Y_MAX = 4.33;

function Panel({ c }: { c: Cfg }) {
  const ref = useRef<HTMLCanvasElement>(null);
  useEffect(() => {
    const fit = c.fx.map((x, i) => ({ x, y: c.fy[i] }));
    const hi = c.fx.map((x, i) => ({ x, y: c.fy[i] + c.fse[i] }));
    const lo = c.fx.map((x, i) => ({ x, y: c.fy[i] - c.fse[i] }));
    const pts = c.pts.map(([x, y]) => ({ x, y }));
    const chart = new Chart(ref.current!, {
      type: "scatter",
      data: {
        datasets: [
          { type: "line", data: fit, borderColor: "#000", borderWidth: 1.8, pointRadius: 0, fill: false, tension: 0, order: 0 } as any,
          { type: "line", data: hi, borderWidth: 0, borderColor: "rgba(0,0,0,0)", pointRadius: 0, fill: "+1", backgroundColor: "rgba(153,153,153,0.45)", tension: 0.35, order: 1 } as any,
          { type: "line", data: lo, borderWidth: 0, borderColor: "rgba(0,0,0,0)", pointRadius: 0, fill: false, tension: 0.35, order: 1 } as any,
          { type: "scatter", data: pts, pointRadius: 2.5, backgroundColor: "rgba(15,15,15,0.8)", borderWidth: 0, order: 2 } as any,
        ],
      },
      options: {
        animation: false,
        responsive: false,
        events: [],
        layout: { padding: { left: 0, right: R, top: T, bottom: 0 } },
        plugins: { legend: { display: false }, tooltip: { enabled: false } },
        scales: {
          x: {
            type: "linear", min: c.xMin, max: c.xMax,
            grid: { display: false, drawTicks: false },
            border: { display: true, color: "#8c8c8c", width: 1.5 },
            afterBuildTicks: (s: any) => { s.ticks = c.ticks.map((v) => ({ value: v })); },
            ticks: {
              autoSkip: false, maxRotation: 0, minRotation: 0, color: "#4d4d4d",
              font: { size: 24, family: FONT }, padding: 5,
              callback: (_v: any, i: number) => c.labels[i],
            },
            afterFit: (s: any) => { s.height = XH; s.paddingLeft = 0; s.paddingRight = 0; },
          },
          y: {
            type: "linear", min: Y_MIN, max: Y_MAX,
            grid: { display: false, drawTicks: false },
            border: { display: true, color: "#8c8c8c", width: 1.5 },
            afterBuildTicks: (s: any) => { s.ticks = heightTicks.map((v) => ({ value: v })); },
            ticks: {
              autoSkip: false, color: "#4d4d4d", font: { size: 24, family: FONT }, padding: 7,
              callback: (v: any) => String(v),
            },
            afterFit: (s: any) => { s.width = YW; s.paddingTop = 0; s.paddingBottom = 0; },
          },
        },
      } as any,
    });
    return () => chart.destroy();
  }, [c]);
  const cw = c.w + YW + R, ch = c.h + T + XH;
  const cx = c.left + c.w / 2;
  const statsY = c.statsBelow ? c.top + c.h + 75 : c.top - 16;
  const text = (s: string, x: number, y: number, size: number, color: string, center: boolean) => (
    <div style={{ position: "absolute", left: x, top: y - 15, height: 30, lineHeight: "30px", fontSize: size, color, whiteSpace: "pre", fontFamily: FONT, transform: center ? "translateX(-50%)" : undefined }}>{s}</div>
  );
  return (
    <>
      <canvas ref={ref} width={cw} height={ch} style={{ position: "absolute", left: c.left - YW, top: c.top - T, width: cw, height: ch }} />
      {text(c.title, cx, c.top + c.h + 45, 25, "#000", true)}
      {text(c.p, c.statsX, statsY, 21, c.pRed ? "#ff0000" : "#000", false)}
      {text("R2 =  " + c.r2, c.statsX, statsY + 27, 21, "#000", false)}
    </>
  );
}

const seedWidth: P[] = seedWidthColumns.flatMap(([x, ys]) => ys.map((y) => [x, y] as P));

const panels: Cfg[] = [
  { left: 81, top: 51, w: 328, h: 264, statsX: 93, xMin: -0.36, xMax: 10.35, ticks: massTicks, labels: massTickLabels, pts: seedMass, fx: massFitX, fy: massFitY, fse: massFitSE, title: "log avg. seed mass (g)", p: "p = 0.424", pRed: false, r2: "0.001", statsBelow: false },
  { left: 441, top: 51, w: 327, h: 264, statsX: 448, xMin: 0.005, xMax: 2.01, ticks: lengthTicks, labels: lengthTickLabels, pts: seedLength, fx: lengthFitX, fy: lengthFitY, fse: lengthFitSE, title: "log avg. seed length (cm)", p: "p = 0.278", pRed: false, r2: "0.002", statsBelow: false },
  { left: 801, top: 51, w: 328, h: 264, statsX: 823, xMin: -0.03, xMax: 4.4, ticks: fruitLenTicks, labels: fruitLenTickLabels, pts: fruitLength, fx: fruitLenFitX, fy: fruitLenFitY, fse: fruitLenFitSE, title: "log avg. fruit length (cm)", p: "p = 1.19e-05***", pRed: true, r2: "0.032", statsBelow: false },
  { left: 81, top: 385, w: 328, h: 264, statsX: 93, xMin: -0.47, xMax: 10.2, ticks: massTicks, labels: massTickLabels, pts: thousandSeedMass, fx: kMassFitX, fy: kMassFitY, fse: kMassFitSE, title: "log avg. 1000 seed mass (g)", p: "p = 0.0005***", pRed: true, r2: "0.019", statsBelow: true },
  { left: 441, top: 385, w: 327, h: 264, statsX: 448, xMin: 0.095, xMax: 1.075, ticks: widthTicks, labels: widthTickLabels, pts: seedWidth, fx: widthFitX, fy: widthFitY, fse: widthFitSE, title: "log avg. seed width (cm)", p: "p = 0.104", pRed: false, r2: "0.004", statsBelow: true },
  { left: 801, top: 385, w: 328, h: 264, statsX: 823, xMin: 0.015, xMax: 2.815, ticks: fruitWidTicks, labels: fruitWidTickLabels, pts: fruitWidth, fx: fruitWidFitX, fy: fruitWidFitY, fse: fruitWidFitSE, title: "log avg. fruit width (cm)", p: "p = 1.44e-06***", pRed: true, r2: "0.038", statsBelow: true },
];

export default function App() {
  return (
    <div style={{ position: "absolute", left: 0, top: 0, width: 1220, height: 761, background: "#fff", overflow: "hidden", fontFamily: FONT }}>
      <div style={{ position: "absolute", left: 9, top: 10, width: 1220, height: 800, borderTop: "2px solid #1a1a1a", borderLeft: "2px solid #1a1a1a" }} />
      {panels.map((c, i) => <Panel key={i} c={c} />)}
      <div style={{ position: "absolute", left: 33, top: 363, transform: "translate(-50%,-50%) rotate(-90deg)", whiteSpace: "nowrap", fontSize: 24, color: "#000", fontFamily: FONT }}>log avg. height (m)</div>
    </div>
  );
}
